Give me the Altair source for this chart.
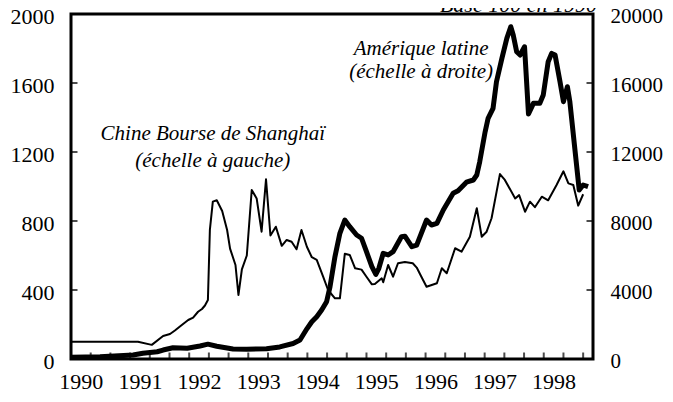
import altair as alt
import pandas as pd

# month index since January 1990 (0 = Jan 1990)
chine_m = [0, 13.6, 16.4, 18.7, 20.1, 21.1, 22.5, 23.8, 24.8, 25.8, 26.6, 27.2, 27.8, 28.2, 28.8,
           29.6, 30.7, 31.7, 32.3, 33.4, 34.0, 34.7, 35.7, 36.7, 37.7, 38.7, 39.6, 40.5, 41.6,
           42.8, 43.8, 44.8, 45.8, 46.8, 47.9, 48.9, 49.9, 51.2, 52.2, 53.6, 54.6, 55.6, 56.6,
           57.7, 59.0, 60.0, 61.1, 61.7, 63.1, 63.4, 64.4, 65.4, 66.4, 67.8, 69.4, 70.2, 71.1,
           72.2, 74.3, 75.3, 76.3, 78.0, 79.3, 81.0, 82.4, 83.4, 84.4, 85.4, 87.1, 88.1, 90.2,
           91.0, 92.2, 93.2, 94.2, 95.6, 96.9, 98.6, 100.0, 101.0, 102.0, 103.0, 104.0]
chine_v = [100, 100, 82, 133, 145, 165, 197, 226, 240, 274, 290, 310, 342, 748, 912,
           920, 858, 748, 640, 545, 371, 520, 600, 980, 931, 738, 1042, 716, 767,
           656, 690, 680, 636, 748, 651, 590, 575, 477, 400, 352, 352, 610, 603,
           526, 518, 477, 433, 435, 468, 445, 545, 477, 555, 562, 555, 530, 480,
           419, 439, 526, 497, 642, 622, 709, 874, 709, 738, 816, 1072, 1038, 931,
           950, 854, 912, 880, 941, 920, 1009, 1088, 1018, 1009, 889, 955]

amer_m = [0, 5.9, 12.6, 14.6, 17.5, 18.7, 20.7, 23.6, 26.2, 27.8, 29.6, 32.9, 35.7, 39.7,
          42.4, 45.1, 46.5, 47.9, 48.9, 49.9, 50.9, 51.9, 52.6, 53.6, 54.6, 55.6, 56.6,
          58.0, 59.0, 60.0, 61.1, 61.9, 62.5, 63.4, 64.4, 65.4, 67.1, 67.8, 69.2, 70.2,
          72.2, 73.2, 74.3, 75.6, 77.6, 78.6, 80.3, 81.7, 82.4, 83.0, 84.1, 84.7, 85.7,
          86.4, 87.5, 88.5, 89.3, 89.8, 90.5, 91.2, 92.1, 92.9, 93.9, 95.2, 95.9, 96.9,
          97.6, 98.3, 99.3, 100.0, 100.8, 101.3, 102.3, 103.2, 104.0, 105.0]
amer_v = [100, 130, 230, 330, 420, 520, 650, 620, 754, 860, 740, 580, 560, 600,
          700, 900, 1101, 1750, 2162, 2452, 2840, 3322, 4191, 5930, 7287, 8058, 7670,
          7188, 7000, 6220, 5351, 4900, 5244, 6128, 6030, 6220, 7090, 7120, 6510, 6606,
          8058, 7768, 7864, 8638, 9604, 9750, 10250, 10377, 10667, 11439, 13178, 13952, 14531,
          16075, 17427, 18586, 19262, 18780, 17814, 17623, 18100, 14200, 14821, 14821, 15304, 17234,
          17717, 17620, 16075, 14917, 15786, 14917, 12212, 9797, 10087, 9990]

years = [1990, 1991, 1992, 1993, 1994, 1995, 1996, 1997, 1998]
x_tick_months = list(range(0, 105, 4))
left_ticks = [0, 400, 800, 1200, 1600, 2000]
right_ticks = [0, 4000, 8000, 12000, 16000, 20000]

notes_m = [28.8, 28.8, 71.1, 71.1]
notes_v = [1270, 1113, 1762, 1629]
notes_text = ["Chine Bourse de Shanghaï", "(échelle à gauche)",
              "Amérique latine", "(échelle à droite)"]
title_m = [106.8]
title_v = [2012]
title_text = ["Base 100 en 1990"]

W, H = 522, 345
FONT = "Liberation Serif"

chine = pd.DataFrame({"m": chine_m, "v": chine_v})
amer = pd.DataFrame({"m": amer_m, "v": amer_v})
xt = pd.DataFrame({"m": x_tick_months})
lt = pd.DataFrame({"v": left_ticks})
rt = pd.DataFrame({"v": right_ticks})
notes = pd.DataFrame({"m": notes_m, "v": notes_v, "t": notes_text})
title_df = pd.DataFrame({"m": title_m, "v": title_v, "t": title_text})

xscale = alt.Scale(domain=[0, 106], nice=False, zero=False)
yl = alt.Scale(domain=[0, 2000], nice=False)
yr = alt.Scale(domain=[0, 20000], nice=False)

x_axis = alt.Axis(values=[12 * i + 2 for i in range(len(years))],
                  labelExpr="format(1990 + (datum.value - 2) / 12, 'd')",
                  tickSize=0, domain=False, grid=False, labelPadding=12,
                  labelFlush=False, labelOverlap=False, title=None,
                  labelFontSize=22, labelFont=FONT, labelColor="black")
yl_axis = alt.Axis(values=left_ticks, orient="left", format="d", tickSize=0, domain=False,
                   grid=False, labelPadding=17, labelOffset=2, title=None, labelFontSize=22,
                   labelFont=FONT, labelColor="black", labelFlush=False)
yr_axis = alt.Axis(values=right_ticks, orient="right", format="d", tickSize=0, domain=False,
                   grid=False, labelPadding=17, labelOffset=2, title=None, labelFontSize=21,
                   labelFont=FONT, labelColor="black", labelFlush=False)

X = alt.X("m:Q", scale=xscale, axis=x_axis)
YL = alt.Y("v:Q", scale=yl, axis=yl_axis)
YR = alt.Y("v:Q", scale=yr, axis=yr_axis)

chine_line = alt.Chart(chine).mark_line(color="black", strokeWidth=2, strokeJoin="round").encode(
    x=X, y=YL)
left_tk = alt.Chart(lt).mark_tick(orient="horizontal", size=7, thickness=2, color="black").encode(
    y=YL, x=alt.value(3))
xticks = alt.Chart(xt).mark_tick(orient="vertical", size=7, thickness=2, color="black").encode(
    x=X, y=alt.value(H - 3))
texts = alt.Chart(notes).mark_text(font=FONT, fontStyle="italic", fontSize=21, align="center",
                                   baseline="alphabetic", color="black").encode(
    x=X, y=YL, text="t:N")
title_txt = alt.Chart(title_df).mark_text(font=FONT, fontStyle="italic", fontSize=22, align="right",
                                          baseline="alphabetic", color="black").encode(
    x=X, y=YL, text="t:N")

amer_line = alt.Chart(amer).mark_line(color="black", strokeWidth=5, strokeJoin="round").encode(
    x=X, y=YR)
right_tk = alt.Chart(rt).mark_tick(orient="horizontal", size=7, thickness=2, color="black").encode(
    y=YR, x=alt.value(W - 3))

left_group = alt.layer(xticks, left_tk, chine_line, texts, title_txt)
right_group = alt.layer(right_tk, amer_line)

chart = alt.layer(left_group, right_group).resolve_scale(y="independent").properties(
    width=W, height=H,
    background="white",
    autosize=alt.AutoSizeParams(type="none"),
    padding={"left": 63, "top": 6, "right": 72, "bottom": 35},
).configure_view(stroke="black", strokeWidth=3)

chart.save("out.html", embed_options={"renderer": "svg", "actions": False})
